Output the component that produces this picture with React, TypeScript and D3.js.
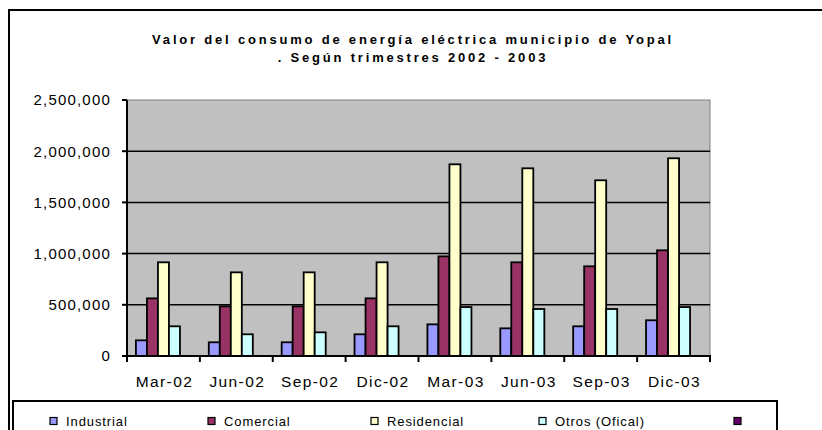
import React, { useEffect, useRef } from 'react';
import * as d3 from 'd3';

// trimestres
const categories = ['Mar-02', 'Jun-02', 'Sep-02', 'Dic-02', 'Mar-03', 'Jun-03', 'Sep-03', 'Dic-03'];
const seriesNames = ['Industrial', 'Comercial', 'Residencial', 'Otros (Ofical)', ''];
const seriesColors = ['#9999FF', '#993366', '#FFFFCC', '#CCFFFF', '#660066'];

const industrial = [153000, 134000, 134000, 212000, 309000, 270000, 290000, 349000];
const comercial = [563000, 485000, 485000, 563000, 973000, 915000, 876000, 1032000];
const residencial = [915000, 817000, 817000, 915000, 1872000, 1833000, 1716000, 1931000];
const otros = [290000, 212000, 231000, 290000, 478000, 459000, 459000, 478000];
const vacia = [0, 0, 0, 0, 0, 0, 0, 0];

const yTicks = [0, 500000, 1000000, 1500000, 2000000, 2500000];
const titleLines = ['Valor del consumo de energía eléctrica municipio de Yopal', '. Según trimestres 2002 - 2003'];

const FONT = '"Liberation Sans", Arial, sans-serif';

const App = () => {
  const svgRef = useRef<SVGSVGElement>(null);

  useEffect(() => {
    const width = 822;
    const height = 430;
    const plot = { left: 127, right: 710, top: 100, bottom: 356 };
    const values = [industrial, comercial, residencial, otros, vacia];

    const svg = d3.select(svgRef.current)
      .attr('width', width)
      .attr('height', height)
      .style('font-family', FONT);
    svg.selectAll('*').remove();

    svg.append('rect').attr('width', width).attr('height', height).attr('fill', 'white');

    // marco exterior (sin borde derecho visible)
    svg.append('path')
      .attr('d', `M9,${height + 2} L9,10 L${width + 2},10`)
      .attr('fill', 'none')
      .attr('stroke', 'black')
      .attr('stroke-width', 2);

    // titulo
    const title = svg.append('text')
      .attr('text-anchor', 'middle')
      .attr('font-weight', 'bold')
      .attr('font-size', 13)
      .style('letter-spacing', '2.8px')
      .attr('fill', 'black');
    title.selectAll('tspan')
      .data(titleLines)
      .join('tspan')
      .attr('x', 413)
      .attr('y', (d, i) => 44 + i * 18)
      .text(d => d);

    const x0 = d3.scaleBand<string>()
      .domain(categories)
      .range([plot.left, plot.right])
      .padding(0);
    const x1 = d3.scaleBand<number>()
      .domain(d3.range(seriesNames.length))
      .range([0, x0.bandwidth()])
      .paddingInner(0)
      .paddingOuter(0.81);
    const y = d3.scaleLinear()
      .domain([0, 2500000])
      .range([plot.bottom, plot.top]);

    // area de trazado
    svg.append('rect')
      .attr('x', plot.left)
      .attr('y', plot.top)
      .attr('width', plot.right - plot.left)
      .attr('height', plot.bottom - plot.top)
      .attr('fill', '#C0C0C0')
      .attr('stroke', '#808080')
      .attr('stroke-width', 1);

    // lineas de division
    svg.append('g')
      .selectAll('line')
      .data(yTicks.filter(t => t > 0 && t < 2500000))
      .join('line')
      .attr('x1', plot.left)
      .attr('x2', plot.right)
      .attr('y1', d => y(d))
      .attr('y2', d => y(d))
      .attr('stroke', 'black')
      .attr('stroke-width', 1.5);

    // barras
    const groups = svg.append('g')
      .selectAll('g')
      .data(categories)
      .join('g')
      .attr('transform', d => `translate(${x0(d)},0)`);
    groups.selectAll('rect')
      .data((c, ci) => values.map((s, si) => ({ si, v: s[ci] })).filter(d => d.v > 0))
      .join('rect')
      .attr('x', d => x1(d.si)!)
      .attr('y', d => y(d.v))
      .attr('width', x1.bandwidth())
      .attr('height', d => y(0) - y(d.v))
      .attr('fill', d => seriesColors[d.si])
      .attr('stroke', 'black')
      .attr('stroke-width', 1.8);

    // ejes
    const axisG = svg.append('g').attr('stroke', 'black').attr('stroke-width', 2);
    axisG.append('line')
      .attr('x1', plot.left).attr('x2', plot.left)
      .attr('y1', plot.top).attr('y2', plot.bottom);
    axisG.append('line')
      .attr('x1', plot.left).attr('x2', plot.right + 1)
      .attr('y1', plot.bottom).attr('y2', plot.bottom);
    axisG.selectAll('.yt')
      .data(yTicks)
      .join('line')
      .attr('class', 'yt')
      .attr('x1', plot.left - 5).attr('x2', plot.left)
      .attr('y1', d => y(d)).attr('y2', d => y(d));
    axisG.selectAll('.xt')
      .data(categories.map(c => x0(c)!).concat([plot.right]))
      .join('line')
      .attr('class', 'xt')
      .attr('x1', d => d).attr('x2', d => d)
      .attr('y1', plot.bottom).attr('y2', plot.bottom + 6);

    const fmt = d3.format(',');
    svg.append('g')
      .selectAll('text')
      .data(yTicks)
      .join('text')
      .attr('x', 111)
      .attr('y', d => y(d))
      .attr('dy', '0.36em')
      .attr('text-anchor', 'end')
      .attr('font-size', 15)
      .style('letter-spacing', '1.2px')
      .text(d => fmt(d));

    svg.append('g')
      .selectAll('text')
      .data(categories)
      .join('text')
      .attr('x', d => x0(d)! + x0.bandwidth() / 2 + 1)
      .attr('y', 381)
      .attr('dy', '0.36em')
      .attr('text-anchor', 'middle')
      .attr('font-size', 15.5)
      .style('letter-spacing', '1.4px')
      .text(d => d);

    // leyenda
    svg.append('rect')
      .attr('x', 13)
      .attr('y', 401)
      .attr('width', 777 - 13)
      .attr('height', 40)
      .attr('fill', 'white')
      .attr('stroke', 'black')
      .attr('stroke-width', 2);
    const legendX = [50, 208, 371, 539, 734];
    const item = svg.append('g')
      .selectAll('g')
      .data(seriesNames)
      .join('g')
      .attr('transform', (d, i) => `translate(${legendX[i]},421)`);
    item.append('rect')
      .attr('x', 0)
      .attr('y', -3.5)
      .attr('width', 7)
      .attr('height', 7)
      .attr('fill', (d, i) => seriesColors[i])
      .attr('stroke', 'black')
      .attr('stroke-width', 1.2);
    item.append('text')
      .attr('x', 16)
      .attr('dy', '0.36em')
      .attr('font-size', 13)
      .style('letter-spacing', '0.9px')
      .text(d => d);
  }, []);

  return (
    <svg ref={svgRef} style={{ position: 'absolute', left: 0, top: 0, display: 'block' }}></svg>
  );
};

export default App;
